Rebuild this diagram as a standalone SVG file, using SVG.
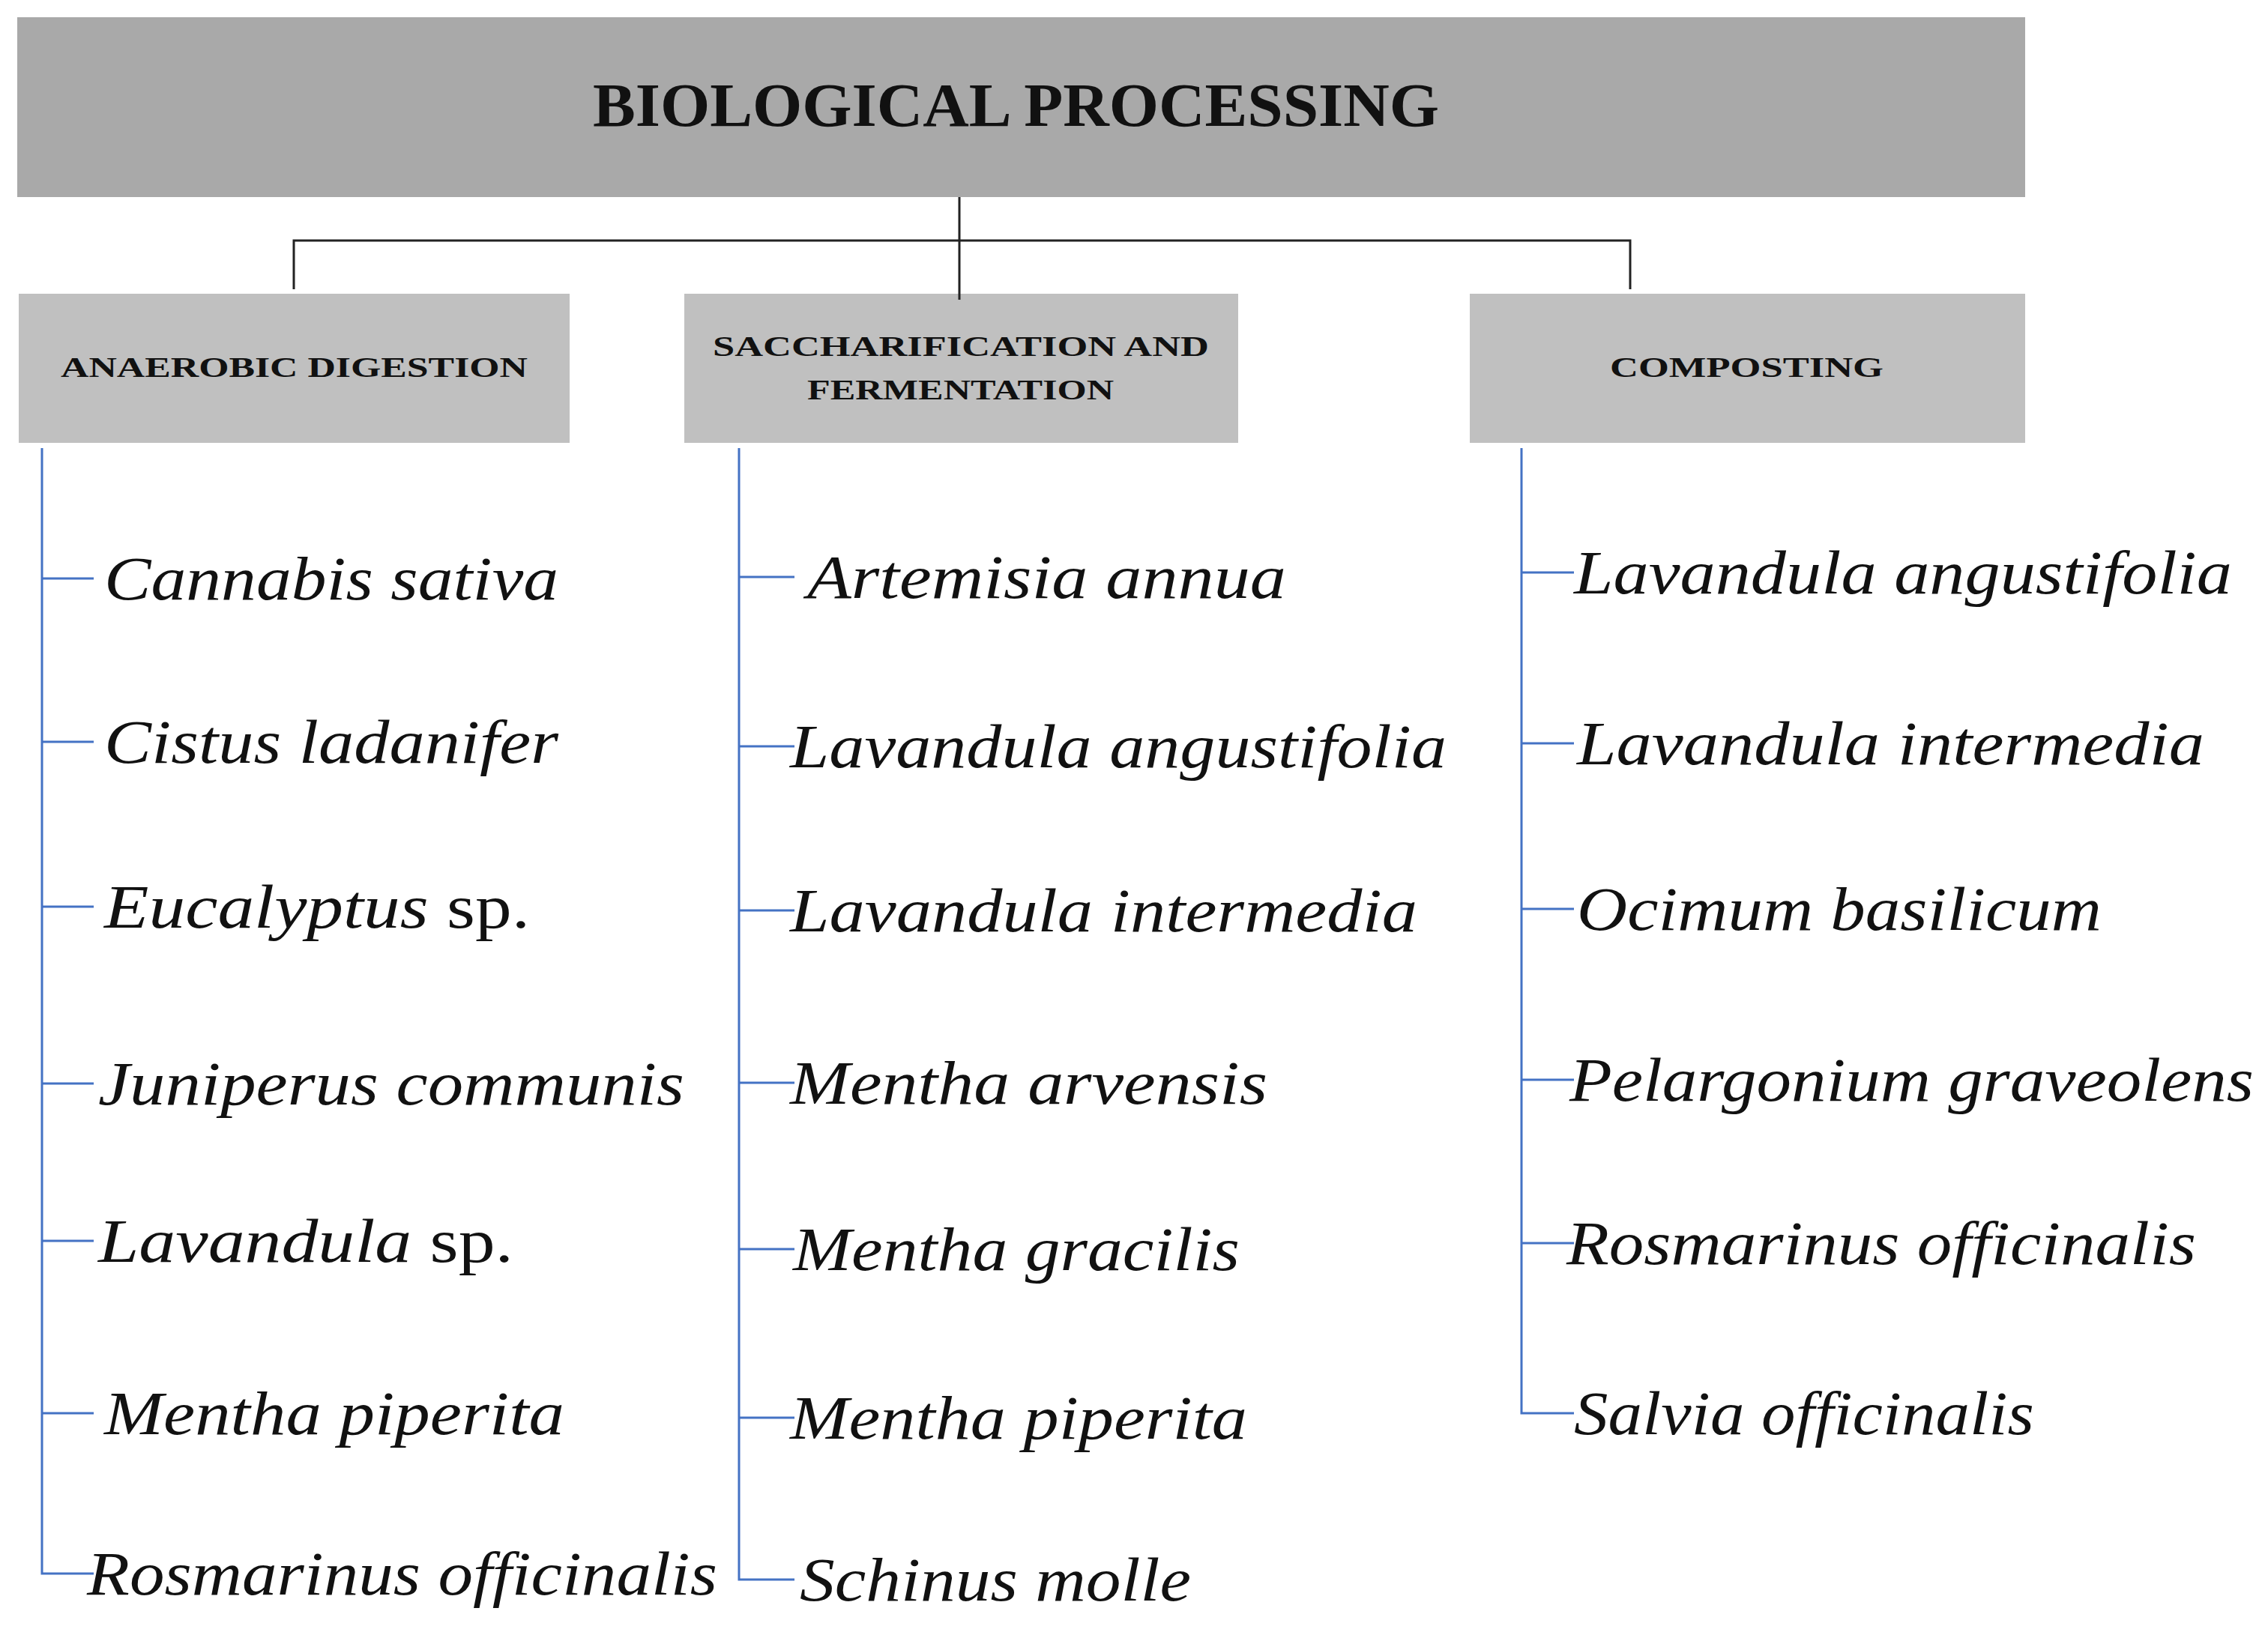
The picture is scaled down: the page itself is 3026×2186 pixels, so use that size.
<svg xmlns="http://www.w3.org/2000/svg" width="3026" height="2186" viewBox="0 0 3026 2186">
<style>
.top{fill:#a9a9a9}.sub{fill:#c0c0c0}
.h{font-family:"Liberation Serif","DejaVu Serif",serif;font-weight:bold;fill:#111}
.it{font-family:"Liberation Serif","DejaVu Serif",serif;font-style:italic;font-size:82px;fill:#111}
.n{font-style:normal}
.k{stroke:#222;stroke-width:3;fill:none}
.b{stroke:#4472c4;stroke-width:3;fill:none}
</style>
<rect width="3026" height="2186" fill="#fff"/>
<g id="root"><rect class="top" x="23" y="23" width="2679" height="240"/>
<text class="h" x="791" y="168" font-size="82" textLength="1129" lengthAdjust="spacingAndGlyphs">BIOLOGICAL PROCESSING</text></g>
<g id="ad"><rect class="sub" x="25" y="392" width="735" height="199"/>
<text class="h" x="81" y="503" font-size="38" textLength="623" lengthAdjust="spacingAndGlyphs">ANAEROBIC DIGESTION</text></g>
<g id="sf"><rect class="sub" x="913" y="392" width="739" height="199"/>
<text class="h" x="951" y="475" font-size="38" textLength="662" lengthAdjust="spacingAndGlyphs">SACCHARIFICATION AND</text>
<text class="h" x="1077" y="533" font-size="38" textLength="409" lengthAdjust="spacingAndGlyphs">FERMENTATION</text></g>
<g id="co"><rect class="sub" x="1961" y="392" width="741" height="199"/>
<text class="h" x="2148" y="503" font-size="38" textLength="365" lengthAdjust="spacingAndGlyphs">COMPOSTING</text></g>
<g id="connectors">
<path class="k" d="M1280 263V400M392 386V321H2175V386"/>
<path class="b" d="M56 598V2100H125M56 772H125M56 990H125M56 1210H125M56 1446H125M56 1656H125M56 1886H125"/>
<path class="b" d="M986 598V2108H1060M986 770H1060M986 996H1060M986 1215H1060M986 1445H1060M986 1667H1060M986 1892H1060"/>
<path class="b" d="M2030 598V1886H2100M2030 764H2100M2030 992H2100M2030 1213H2100M2030 1441H2100M2030 1659H2100"/>
</g>
<g id="list1">
<text class="it" x="139" y="800" textLength="606" lengthAdjust="spacingAndGlyphs">Cannabis sativa</text>
<text class="it" x="139" y="1018" textLength="606" lengthAdjust="spacingAndGlyphs">Cistus ladanifer</text>
<text class="it" x="139" y="1238" textLength="568" lengthAdjust="spacingAndGlyphs">Eucalyptus <tspan class="n">sp.</tspan></text>
<text class="it" x="131" y="1474" textLength="782" lengthAdjust="spacingAndGlyphs">Juniperus communis</text>
<text class="it" x="131" y="1684" textLength="554" lengthAdjust="spacingAndGlyphs">Lavandula <tspan class="n">sp.</tspan></text>
<text class="it" x="139" y="1914" textLength="614" lengthAdjust="spacingAndGlyphs">Mentha piperita</text>
<text class="it" x="116" y="2128" textLength="841" lengthAdjust="spacingAndGlyphs">Rosmarinus officinalis</text>
</g>
<g id="list2">
<text class="it" x="1077" y="798" textLength="639" lengthAdjust="spacingAndGlyphs">Artemisia annua</text>
<text class="it" x="1054" y="1024" textLength="876" lengthAdjust="spacingAndGlyphs">Lavandula angustifolia</text>
<text class="it" x="1054" y="1243" textLength="837" lengthAdjust="spacingAndGlyphs">Lavandula intermedia</text>
<text class="it" x="1054" y="1473" textLength="637" lengthAdjust="spacingAndGlyphs">Mentha arvensis</text>
<text class="it" x="1058" y="1695" textLength="596" lengthAdjust="spacingAndGlyphs">Mentha gracilis</text>
<text class="it" x="1054" y="1920" textLength="610" lengthAdjust="spacingAndGlyphs">Mentha piperita</text>
<text class="it" x="1067" y="2136" textLength="522" lengthAdjust="spacingAndGlyphs">Schinus molle</text>
</g>
<g id="list3">
<text class="it" x="2100" y="792" textLength="878" lengthAdjust="spacingAndGlyphs">Lavandula angustifolia</text>
<text class="it" x="2104" y="1020" textLength="837" lengthAdjust="spacingAndGlyphs">Lavandula intermedia</text>
<text class="it" x="2104" y="1241" textLength="700" lengthAdjust="spacingAndGlyphs">Ocimum basilicum</text>
<text class="it" x="2094" y="1469" textLength="913" lengthAdjust="spacingAndGlyphs">Pelargonium graveolens</text>
<text class="it" x="2090" y="1687" textLength="840" lengthAdjust="spacingAndGlyphs">Rosmarinus officinalis</text>
<text class="it" x="2100" y="1914" textLength="614" lengthAdjust="spacingAndGlyphs">Salvia officinalis</text>
</g>
</svg>
